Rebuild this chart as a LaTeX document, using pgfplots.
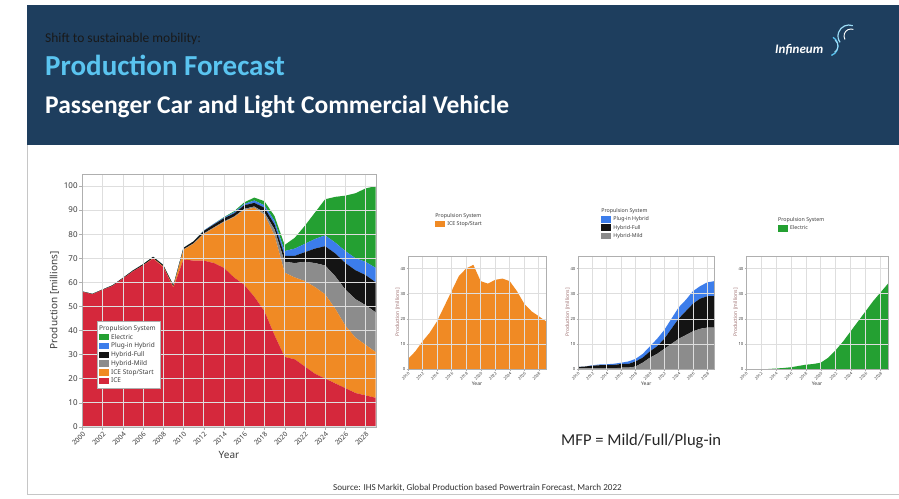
\documentclass[border=0pt]{standalone}
\usepackage{fontspec}
\setmainfont{Carlito}
\newfontfamily\chartfont{Noto Sans}
\usepackage{pgfplots}
\pgfplotsset{compat=1.18}
\usepackage{pgfplotstable}
\definecolor{hdr}{RGB}{30,62,94}
\definecolor{lblue}{RGB}{90,196,240}
\definecolor{cICE}{RGB}{213,40,60}
\definecolor{cSS}{RGB}{240,138,36}
\definecolor{cMild}{RGB}{140,140,140}
\definecolor{cFull}{RGB}{20,20,20}
\definecolor{cPHEV}{RGB}{60,125,235}
\definecolor{cEV}{RGB}{36,160,50}
\definecolor{gridc}{RGB}{222,222,222}
\definecolor{framec}{RGB}{175,175,175}
\definecolor{tickc}{RGB}{60,60,60}
\definecolor{ylab}{RGB}{160,115,115}

\pgfplotstableread{
year ice ss mild full phev ev
2000 56 0 0 0.2 0 0
2001 55 0 0 0.2 0 0
2002 56.8 0 0 0.2 0 0
2003 58.5 0 0 0.3 0 0
2004 61.5 0 0 0.3 0 0
2005 64.5 0 0 0.4 0 0
2006 67 0 0 0.5 0 0
2007 69.8 0.2 0 0.6 0 0
2008 66.3 0.3 0 0.6 0 0
2009 57.8 0.3 0 0.6 0 0
2010 69.5 4 0.2 0.6 0 0
2011 69 7 0.2 0.8 0 0
2012 69 11 0.3 1.0 0.2 0
2013 68 14.5 0.3 1.2 0.3 0
2014 66 19 0.3 1.3 0.3 0.2
2015 62 25 0.3 1.3 0.5 0.4
2016 59 31 0.5 1.5 0.5 0.7
2017 54 37 0.5 1.5 1.0 1.2
2018 48 40 1.0 2.0 1.0 1.7
2019 38 41.5 2.5 2.0 1.5 2.0
2020 29 35 4.5 2.5 2.0 2.5
2021 28 34 6 3 3 4.5
2022 25 35.5 8 4 3.5 7.5
2023 22 36 10 6 4 11
2024 20 35 12 8 4.5 15
2025 18 31 13.5 9.5 4.5 19
2026 16 26 15 11 5 23
2027 14 23 16 12 5 27
2028 13 21 16.5 12.5 5.5 30.5
2029 12 19 16.5 12.5 6 34
}\data

\pgfplotsset{
  legimg/.style={legend image code/.code={\fill[##1] (0pt,-3pt) rectangle (10pt,3.5pt);}},
  common/.style={
    scale only axis,
    grid=major, grid style={gridc, line width=0.5pt},
    axis line style={framec}, tick style={framec},
    tick align=outside, xtick pos=bottom, ytick pos=left,
    /pgf/number format/assume math mode=true,
    /pgf/number format/1000 sep={},
    area style, legimg,
  },
  small/.style={common,
    width=#1, height=113pt,
    xmin=2010, xmax=2029, ymin=0, ymax=45,
    xtick={2010,2012,...,2028}, ytick={0,10,...,40},
    major tick length=1.5pt,
    xticklabel style={rotate=45, anchor=north east, inner sep=0.8pt, font=\chartfont\fontsize{4}{5}\selectfont, text=tickc},
    yticklabel style={inner sep=1pt, font=\chartfont\fontsize{4.2}{5}\selectfont, text=tickc},
    ylabel={Production [millions]}, xlabel={Year},
    ylabel style={font=\chartfont\fontsize{5}{6}\selectfont, text=ylab, yshift=-4pt},
    xlabel style={font=\chartfont\fontsize{5}{6}\selectfont, text=tickc, yshift=3pt},
    legend style={draw=none, fill=none, font=\chartfont\fontsize{5.3}{6}\selectfont, text=tickc, anchor=north west, row sep=-1.2pt, inner sep=0pt},
    legend cell align=left, reverse legend,
  },
}

\begin{document}
\begin{tikzpicture}[x=1pt,y=1pt]
\useasboundingbox (0pt,0pt) rectangle (899pt,498pt);
\fill[white] (0pt,0pt) rectangle (899pt,498pt);
\fill[hdr] (27pt,353pt) rectangle (899pt,493pt);
\draw[gray!45, line width=0.8pt] (27pt,4pt) -- (27pt,353pt);
\draw[gray!45, line width=0.8pt] (27pt,4pt) -- (899pt,4pt);

\node[anchor=base west, inner sep=0, text=black!90, font=\fontsize{13.5}{16}\selectfont] at (45pt,455pt) {Shift to sustainable mobility:};
\node[anchor=base west, inner sep=0, text=lblue, font=\fontsize{29}{33}\selectfont\bfseries] at (45pt,422pt) {Production Forecast};
\node[anchor=base west, inner sep=0, text=white, font=\fontsize{25.5}{29}\selectfont\bfseries] at (45pt,384pt) {Passenger Car and Light Commercial Vehicle};

% logo
\node[anchor=base west, inner sep=0, text=white, font=\fontsize{13}{15}\selectfont\bfseries\itshape] at (775pt,444pt) {Infineum};
\draw[lblue!60!white, line width=1.2pt] (849pt,462pt) ++(70:11pt) arc (70:215:11pt);
\draw[white, line width=0.9pt] (851pt,462pt) ++(70:7pt) arc (70:210:7pt);
\draw[lblue, line width=1.3pt] (828pt,452pt) ++(-70:10pt) arc (-70:60:10pt);
\draw[lblue!50!white, line width=0.8pt] (831pt,452pt) ++(-60:7pt) arc (-60:55:7pt);

\node[anchor=base west, inner sep=0, text=black!85, font=\fontsize{16.6}{19}\selectfont] at (561pt,53pt) {MFP = Mild/Full/Plug-in};
\node[anchor=base west, inner sep=0, text=black!80, font=\fontsize{9.1}{11}\selectfont] at (333pt,8pt) {Source: IHS Markit, Global Production based Powertrain Forecast, March 2022};

% main chart
\begin{axis}[common,
  at={(82.3pt,71.3pt)}, anchor=south west, width=293.4pt, height=252.7pt,
  xmin=2000, xmax=2029, ymin=0, ymax=105,
  xtick={2000,2002,...,2028}, ytick={0,10,...,100},
  major tick length=3pt,
  xticklabel style={rotate=45, anchor=north east, inner sep=1pt, font=\chartfont\fontsize{6.8}{8}\selectfont, text=tickc},
  yticklabel style={inner sep=1.5pt, font=\chartfont\fontsize{8}{9}\selectfont, text=tickc},
  ylabel={Production [millions]}, xlabel={Year},
  label style={font=\chartfont\fontsize{10}{12}\selectfont, text=tickc},
  stack plots=y,
  legend style={at={(0.05,0.418)}, anchor=north west, draw=framec, fill=white,
    font=\chartfont\fontsize{6.5}{7}\selectfont, text=tickc, row sep=-1.6pt, inner sep=2pt},
  legend cell align=left, reverse legend,
]
\addplot[fill=cICE, draw=none] table[x=year,y=ice]{\data} \closedcycle;
\addlegendentry{ICE}
\addplot[fill=cSS, draw=none] table[x=year,y=ss]{\data} \closedcycle;
\addlegendentry{ICE Stop/Start}
\addplot[fill=cMild, draw=none] table[x=year,y=mild]{\data} \closedcycle;
\addlegendentry{Hybrid-Mild}
\addplot[fill=cFull, draw=none] table[x=year,y=full]{\data} \closedcycle;
\addlegendentry{Hybrid-Full}
\addplot[fill=cPHEV, draw=none] table[x=year,y=phev]{\data} \closedcycle;
\addlegendentry{Plug-in Hybrid}
\addplot[fill=cEV, draw=none] table[x=year,y=ev]{\data} \closedcycle;
\addlegendentry{Electric}
\addlegendimage{empty legend}
\addlegendentry{\hspace{-12pt}Propulsion System\hspace{12pt}}
\end{axis}

% small chart 1
\begin{axis}[small=138pt, at={(408pt,129pt)}, anchor=south west,
  legend style={at={(0.196,1.40)}}]
\addplot[fill=cSS, draw=none] table[x=year,y=ss]{\data} \closedcycle;
\addlegendentry{ICE Stop/Start}
\addlegendimage{empty legend}
\addlegendentry{\hspace{-12pt}Propulsion System}
\end{axis}

% small chart 2
\begin{axis}[small=136.5pt, at={(578pt,129pt)}, anchor=south west, stack plots=y,
  legend style={at={(0.17,1.44)}}]
\addplot[fill=cMild, draw=none] table[x=year,y=mild]{\data} \closedcycle;
\addlegendentry{Hybrid-Mild}
\addplot[fill=cFull, draw=none] table[x=year,y=full]{\data} \closedcycle;
\addlegendentry{Hybrid-Full}
\addplot[fill=cPHEV, draw=none] table[x=year,y=phev]{\data} \closedcycle;
\addlegendentry{Plug-in Hybrid}
\addlegendimage{empty legend}
\addlegendentry{\hspace{-12pt}Propulsion System}
\end{axis}

% small chart 3
\begin{axis}[small=142pt, at={(746pt,129pt)}, anchor=south west,
  legend style={at={(0.225,1.36)}}]
\addplot[fill=cEV, draw=none] table[x=year,y=ev]{\data} \closedcycle;
\addlegendentry{Electric}
\addlegendimage{empty legend}
\addlegendentry{\hspace{-12pt}Propulsion System}
\end{axis}
\end{tikzpicture}
\end{document}
